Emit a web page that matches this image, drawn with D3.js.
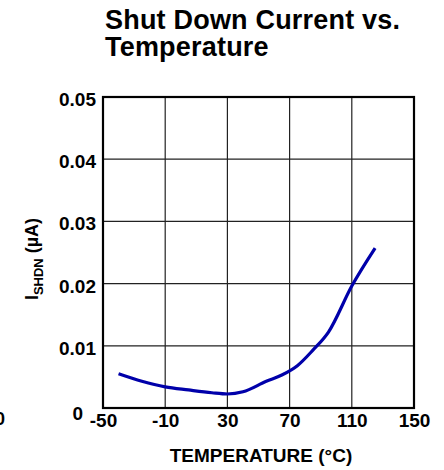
<!DOCTYPE html>
<html>
<head>
<meta charset="utf-8">
<script src="https://cdn.jsdelivr.net/npm/d3@7"></script>
<style>
  body { margin: 0; background: #fff; }
  text { font-family: 'Liberation Sans', Arial, sans-serif; font-weight: bold; fill: #000; }
</style>
</head>
<body>
<div id="chart"></div>
<script>
const temps = [-40, -25, -10, 5, 20, 30, 40, 55, 65, 75, 85, 95, 110, 125]
const current = [0.0055, 0.0043, 0.0034, 0.0029, 0.00245, 0.00225, 0.0026, 0.0043, 0.0053, 0.0068, 0.0093, 0.0122, 0.0196, 0.0257]
const xTicks = [-50, -10, 30, 70, 110, 150]
const yTicks = [0, 0.01, 0.02, 0.03, 0.04, 0.05]
const titleLines = ['Shut Down Current vs.', 'Temperature']

const margin = { top: 97, right: 30, bottom: 62, left: 103 }
const width = 444 - margin.left - margin.right
const height = 470 - margin.top - margin.bottom

const x = d3.scaleLinear().domain([-50, 150]).range([0, width])
const y = d3.scaleLinear().domain([0, 0.05]).range([height, 0])

const svg = d3.select('#chart')
  .append('svg')
  .attr('width', 444)
  .attr('height', 470)

svg.append('text')
  .attr('x', 105)
  .attr('y', 29)
  .style('font-size', '27px')
  .style('letter-spacing', '0.2px')
  .selectAll('tspan')
  .data(titleLines)
  .join('tspan')
  .attr('x', 105)
  .attr('dy', (d, i) => i === 0 ? 0 : 27)
  .text((d) => d)

// stray label from a neighbouring plot
svg.append('text')
  .attr('x', 5)
  .attr('y', 425)
  .attr('text-anchor', 'end')
  .style('font-size', '18px')
  .text('0')

const g = svg.append('g')
  .attr('transform', `translate(${margin.left}, ${margin.top})`)

// grid
g.append('g')
  .selectAll('line')
  .data(xTicks)
  .join('line')
  .attr('x1', (d) => x(d))
  .attr('x2', (d) => x(d))
  .attr('y1', 0)
  .attr('y2', height)
  .attr('stroke', '#222')
  .attr('stroke-width', 1.2)

g.append('g')
  .selectAll('line')
  .data(yTicks)
  .join('line')
  .attr('x1', 0)
  .attr('x2', width)
  .attr('y1', (d) => y(d))
  .attr('y2', (d) => y(d))
  .attr('stroke', '#222')
  .attr('stroke-width', 1.2)

const tickFont = (sel) => sel
  .style('font-size', '19px')
  .style('font-family', "'Liberation Sans', Arial, sans-serif")
  .style('font-weight', 'bold')

const xAxis = g.append('g')
  .attr('transform', `translate(0, ${height})`)
  .call(d3.axisBottom(x).tickValues(xTicks).tickSize(0).tickPadding(5).tickFormat((d) => String(d)))
xAxis.select('.domain').remove()
xAxis.selectAll('text')
  .call(tickFont)
  .attr('dy', '0.72em')

const yAxis = g.append('g')
  .call(d3.axisLeft(y).tickValues(yTicks).tickSize(0).tickPadding(7)
    .tickFormat((d) => d === 0 ? '0' : d3.format('.2f')(d)))
yAxis.select('.domain').remove()
yAxis.selectAll('text')
  .call(tickFont)
  .attr('dy', '0.45em')
yAxis.selectAll('.tick')
  .filter((d) => d === 0)
  .select('text')
  .attr('x', -20)
  .attr('dy', '0.6em')

// frame
g.append('rect')
  .attr('width', width)
  .attr('height', height)
  .attr('fill', 'none')
  .attr('stroke', '#000')
  .attr('stroke-width', 2.2)

const line = d3.line()
  .x((d, i) => x(temps[i]))
  .y((d) => y(d))
  .curve(d3.curveMonotoneX)

g.append('path')
  .datum(current)
  .attr('d', line)
  .attr('fill', 'none')
  .attr('stroke', '#0000aa')
  .attr('stroke-width', 3.2)
  .attr('stroke-linecap', 'butt')

svg.append('text')
  .attr('x', 261)
  .attr('y', 462)
  .attr('text-anchor', 'middle')
  .style('font-size', '19px')
  .text('TEMPERATURE (°C)')

const yTitle = svg.append('text')
  .attr('transform', 'translate(38, 259) rotate(-90)')
  .attr('text-anchor', 'middle')
  .style('font-size', '18px')
yTitle.append('tspan').text('I')
yTitle.append('tspan').attr('dy', 5).style('font-size', '13px').text('SHDN')
yTitle.append('tspan').attr('dy', -5).text(' (µA)')
</script>
</body>
</html>
